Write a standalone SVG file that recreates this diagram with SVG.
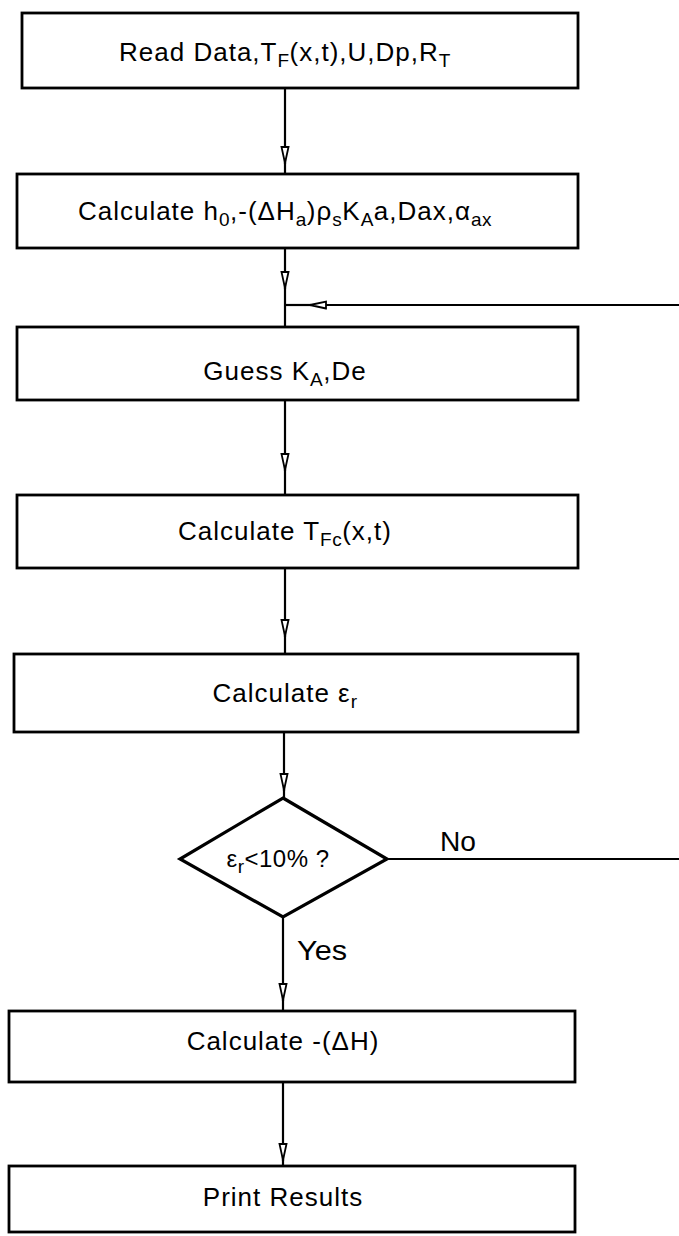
<svg xmlns="http://www.w3.org/2000/svg" width="679" height="1236" viewBox="0 0 679 1236">
<style>
.box{fill:#fff;stroke:#000;stroke-width:2.8}
.dia{fill:#fff;stroke:#000;stroke-width:3.2}
.ln{fill:none;stroke:#000;stroke-width:2.2}
.t{font-family:"Liberation Sans",Arial,sans-serif;font-size:26px;letter-spacing:1px;fill:#000;text-anchor:middle}
.s{font-size:19px;letter-spacing:0.5px}
.lbl{font-family:"Liberation Sans Narrow","Liberation Sans",Arial,sans-serif;font-size:28px;fill:#000}
</style>
<defs>
<marker id="ah" viewBox="0 0 18 10" refX="18" refY="5" markerWidth="18" markerHeight="10" markerUnits="userSpaceOnUse" orient="auto">
<path d="M1,1.5 L17,5 L1,8.5 Z" fill="#fff" stroke="#000" stroke-width="1.8"/>
</marker>
</defs>
<g id="connectors">
<path class="ln" d="M285,88 V164" marker-end="url(#ah)"/><path class="ln" d="M285,162 V174"/>
<path class="ln" d="M285,248 V289" marker-end="url(#ah)"/><path class="ln" d="M285,287 V327"/>
<path class="ln" d="M679,305 H309" marker-end="url(#ah)"/><path class="ln" d="M311,305 H285"/>
<path class="ln" d="M285,400 V471" marker-end="url(#ah)"/><path class="ln" d="M285,469 V495"/>
<path class="ln" d="M285,568 V637" marker-end="url(#ah)"/><path class="ln" d="M285,635 V654"/>
<path class="ln" d="M284,732 V791" marker-end="url(#ah)"/><path class="ln" d="M284,789 V798"/>
<path class="ln" d="M387,859 H679"/>
<path class="ln" d="M283,917 V1001" marker-end="url(#ah)"/><path class="ln" d="M283,999 V1011"/>
<path class="ln" d="M283,1082 V1161" marker-end="url(#ah)"/><path class="ln" d="M283,1159 V1166"/>
</g>
<g id="n1"><rect class="box" x="22" y="13" width="556" height="75"/>
<text class="t" x="285" y="61">Read Data,T<tspan class="s" dy="6">F</tspan><tspan dy="-6">(x,t),U,Dp,R</tspan><tspan class="s" dy="6">T</tspan></text></g>
<g id="n2"><rect class="box" x="17" y="174" width="561" height="74"/>
<text class="t" x="285" y="220">Calculate h<tspan class="s" dy="6">0</tspan><tspan dy="-6">,-(ΔH</tspan><tspan class="s" dy="6">a</tspan><tspan dy="-6">)ρ</tspan><tspan class="s" dy="6">s</tspan><tspan dy="-6">K</tspan><tspan class="s" dy="6">A</tspan><tspan dy="-6">a,Dax,α</tspan><tspan class="s" dy="6">ax</tspan></text></g>
<g id="n3"><rect class="box" x="17" y="327" width="561" height="73"/>
<text class="t" x="285" y="380">Guess K<tspan class="s" dy="6">A</tspan><tspan dy="-6">,De</tspan></text></g>
<g id="n4"><rect class="box" x="17" y="495" width="561" height="73"/>
<text class="t" x="285" y="540">Calculate T<tspan class="s" dy="6">Fc</tspan><tspan dy="-6">(x,t)</tspan></text></g>
<g id="n5"><rect class="box" x="14" y="654" width="564" height="78"/>
<text class="t" x="285" y="702">Calculate ε<tspan class="s" dy="6">r</tspan></text></g>
<g id="n6"><path class="dia" d="M283,798 L387,859 L283,917 L180,859 Z"/>
<text class="t" x="278" y="867" style="font-size:24px;letter-spacing:0.5px">ε<tspan class="s" dy="6">r</tspan><tspan dy="-6">&lt;10% ?</tspan></text></g>
<g id="n7"><rect class="box" x="9" y="1011" width="566" height="71"/>
<text class="t" x="283" y="1050">Calculate -(ΔH)</text></g>
<g id="n8"><rect class="box" x="9" y="1166" width="566" height="66"/>
<text class="t" x="283" y="1206">Print Results</text></g>
<text class="lbl" x="440" y="851" textLength="36" lengthAdjust="spacingAndGlyphs">No</text>
<text class="lbl" x="297" y="960" textLength="50" lengthAdjust="spacingAndGlyphs">Yes</text>
</svg>
